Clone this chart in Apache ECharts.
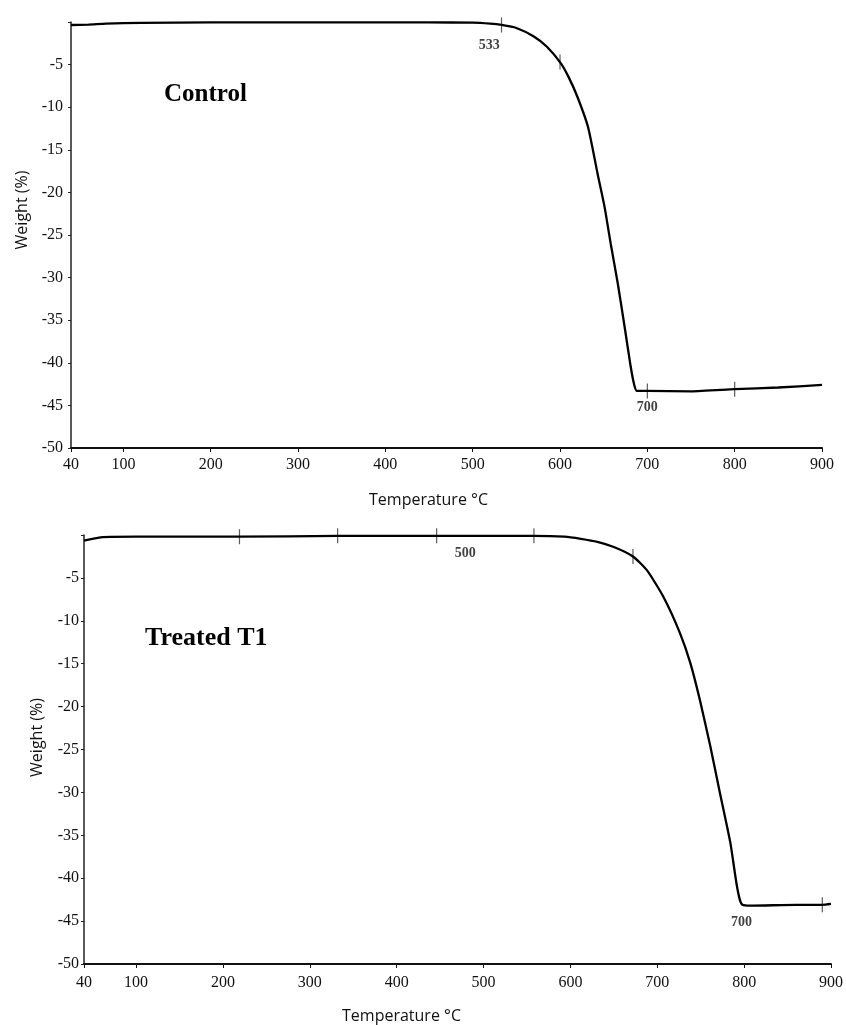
<!DOCTYPE html>
<html>
<head>
<meta charset="utf-8">
<script src="https://cdn.jsdelivr.net/npm/echarts@6/dist/echarts.min.js"></script>
<style>
  html,body{margin:0;padding:0;background:#fff}
  #chart{width:846px;height:1025px}
</style>
</head>
<body>
<div id="chart"></div>
<script>
  // 温度刻度 (x) and weight ticks (y)
  var tempTicks = [40, 100, 200, 300, 400, 500, 600, 700, 800, 900];
  var weightTicks = [0, -5, -10, -15, -20, -25, -30, -35, -40, -45, -50];

  // Control curve: [temperature, weight %]
  var controlCurve = [
    [40, -0.35], [60, -0.3], [80, -0.2], [120, -0.1], [200, -0.05], [300, -0.05],
    [400, -0.05], [450, -0.05], [500, -0.08], [520, -0.2], [533, -0.35], [550, -0.7],
    [570, -1.7], [585, -2.9], [601, -4.85], [610, -6.5], [620, -8.8], [632, -12.3],
    [643, -17.8], [651, -21.7], [658, -26.0], [666, -30.6], [674, -35.8], [681, -40.5],
    [685, -42.6], [688, -43.3], [700, -43.3], [750, -43.35], [800, -43.1],
    [850, -42.9], [900, -42.6]
  ];
  var controlMarks = [[533, -0.35], [600, -4.7], [700, -43.3], [800, -43.1]];
  var controlNotes = [[519, -2.7, '533'], [700, -45.2, '700']];

  // Treated T1 curve
  var treatedCurve = [
    [40, -0.65], [62, -0.25], [100, -0.2], [150, -0.2], [219, -0.2], [332, -0.1],
    [446, -0.1], [558, -0.1], [593, -0.2], [612, -0.45], [631, -0.8], [650, -1.4],
    [672, -2.5], [688, -4.1], [707, -7.2], [726, -11.4], [738, -14.9], [749, -19.2],
    [761, -24.6], [772, -30.0], [784, -35.8], [791, -40.5], [795, -42.5], [798, -43.1],
    [807, -43.2], [860, -43.1], [890, -43.1], [900, -43.0]
  ];
  var treatedMarks = [[219, -0.2], [332, -0.1], [446, -0.1], [558, -0.1], [672, -2.5], [890, -43.1]];
  var treatedNotes = [[479, -2.1, '500'], [797, -45.1, '700']];

  var serif = '"Liberation Serif", "Times New Roman", serif';
  var sans = '"Open Sans", "Liberation Sans", Arial, sans-serif';

  function xAxisCfg(gridIndex, padRight, labelMargin) {
    return {
      type: 'value', gridIndex: gridIndex, min: 40, max: 900,
      name: 'Temperature \u00b0C', nameLocation: 'middle', nameGap: 44,
      nameTextStyle: { fontFamily: sans, fontSize: 16, color: '#111', padding: [0, padRight, 0, 0] },
      axisLine: { onZero: false, lineStyle: { color: '#111', width: 2 } },
      axisTick: { show: true, length: 4, lineStyle: { color: '#111' }, customValues: tempTicks },
      axisLabel: { fontFamily: serif, fontSize: 16, color: '#111', margin: labelMargin, customValues: tempTicks },
      splitLine: { show: false }
    };
  }

  function yAxisCfg(gridIndex, nameGap, padLeft, labelMargin) {
    return {
      type: 'value', gridIndex: gridIndex, min: -50, max: 0,
      name: 'Weight (%)', nameLocation: 'middle', nameGap: nameGap,
      nameTextStyle: { fontFamily: sans, fontSize: 16, color: '#111', padding: [0, 0, 0, padLeft] },
      axisLine: { show: true, onZero: false, lineStyle: { color: '#222', width: 1.5 } },
      axisTick: { show: true, length: 3, lineStyle: { color: '#222' }, customValues: weightTicks },
      axisLabel: {
        fontFamily: serif, fontSize: 16, color: '#111', margin: labelMargin,
        customValues: weightTicks,
        formatter: function (v) { return v === 0 ? '' : String(v); }
      },
      splitLine: { show: false }
    };
  }

  function curveSeries(idx, data) {
    return {
      type: 'line', xAxisIndex: idx, yAxisIndex: idx, data: data,
      showSymbol: false, smooth: 0.2,
      lineStyle: { color: '#000', width: 2.3 }, silent: true
    };
  }

  function markSeries(idx, data) {
    return {
      type: 'scatter', xAxisIndex: idx, yAxisIndex: idx, data: data,
      symbol: 'rect', symbolSize: [1.2, 15], itemStyle: { color: '#333' }, silent: true
    };
  }

  function noteSeries(idx, notes) {
    return {
      type: 'scatter', xAxisIndex: idx, yAxisIndex: idx, symbolSize: 0, silent: true,
      data: notes.map(function (n) { return { value: [n[0], n[1]], name: n[2] }; }),
      label: {
        show: true, position: 'inside', formatter: '{b}',
        fontFamily: serif, fontSize: 14, fontWeight: 'bold', color: '#111'
      }
    };
  }

  var chart = echarts.init(document.getElementById('chart'));
  chart.setOption({
    backgroundColor: '#fff',
    animation: false,
    title: [
      { text: 'Control', left: 159, top: 77, textStyle: { fontFamily: serif, fontSize: 25, fontWeight: 'bold', color: '#000' } },
      { text: 'Treated T1', left: 140, top: 620, textStyle: { fontFamily: serif, fontSize: 26, fontWeight: 'bold', color: '#000' } }
    ],
    grid: [
      { left: 71, right: 24, top: 22, height: 426 },
      { left: 84, right: 11, top: 535, height: 430 }
    ],
    xAxis: [xAxisCfg(0, 36, 9), xAxisCfg(1, 112, 11)],
    yAxis: [yAxisCfg(0, 41, 50, 8), yAxisCfg(1, 39, 24, 5)],
    series: [
      curveSeries(0, controlCurve),
      markSeries(0, controlMarks),
      noteSeries(0, controlNotes),
      curveSeries(1, treatedCurve),
      markSeries(1, treatedMarks),
      noteSeries(1, treatedNotes)
    ]
  });
</script>
</body>
</html>
